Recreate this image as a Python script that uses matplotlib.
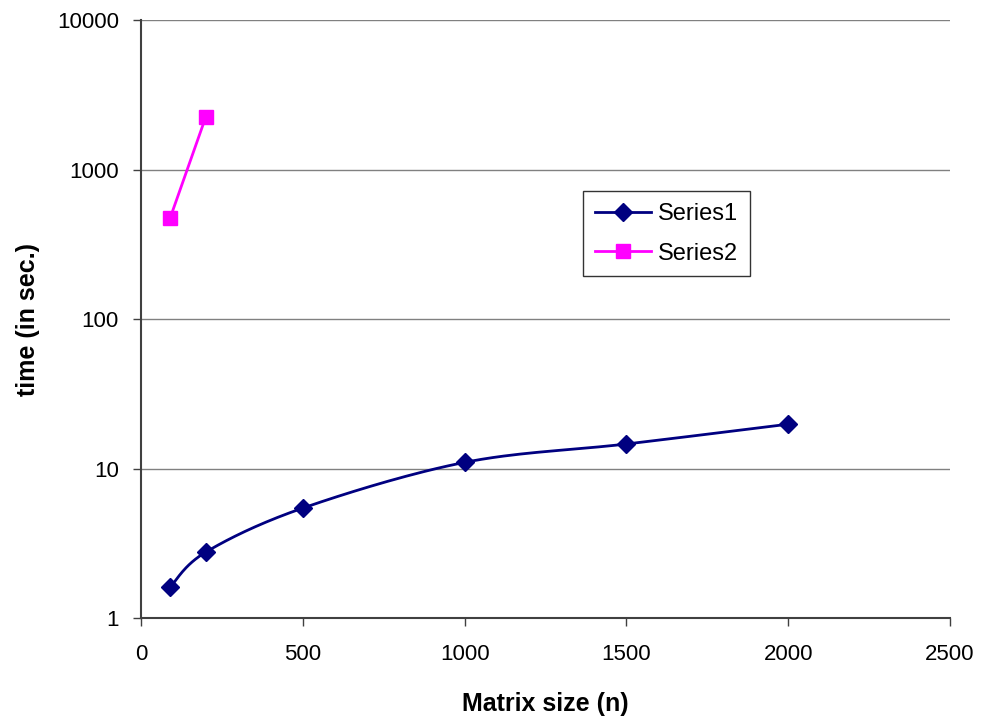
import numpy as np
import matplotlib
matplotlib.use('Agg')
import matplotlib.pyplot as plt
from matplotlib import ticker


size1 = [90, 200, 500, 1000, 1500, 2000]
time1 = [1.61, 2.76, 5.44, 11.0, 14.6, 19.8]
size2 = [90, 200]
time2 = [474, 2245]

X_TICKS = [0, 500, 1000, 1500, 2000, 2500]
Y_TICKS = [1, 10, 100, 1000, 10000]


def smooth(xs, ys, steps=30):
  # Excel-style smoothed line: cubic Bezier with Catmull-Rom control points,
  # built in (x, log10 y) so it matches the log axis.
  pts = np.column_stack([np.asarray(xs, float), np.log10(ys)])
  ext = np.vstack([pts[:1], pts, pts[-1:]])
  t = np.linspace(0, 1, steps)[:, None]
  out = []
  for i in range(len(pts) - 1):
    p0, p1, p2, p3 = ext[i], ext[i + 1], ext[i + 2], ext[i + 3]
    b1 = p1 + (p2 - p0) / 6
    b2 = p2 - (p3 - p1) / 6
    seg = ((1 - t) ** 3 * p1 + 3 * (1 - t) ** 2 * t * b1
           + 3 * (1 - t) * t ** 2 * b2 + t ** 3 * p2)
    out.append(seg if i == 0 else seg[1:])
  out = np.vstack(out)
  return out[:, 0], 10 ** out[:, 1]


plt.rcParams['font.family'] = ['Liberation Sans', 'DejaVu Sans']

fig = plt.figure(figsize=(9.82, 7.17), dpi=100)
ax = fig.add_axes([0.1436, 0.138, 0.8238, 0.834])

ax.set_yscale('log')
ax.set_xlim(0, 2500)
ax.set_ylim(1, 10000)
ax.set_xticks(X_TICKS)
ax.set_yticks(Y_TICKS)
ax.xaxis.set_major_formatter(ticker.FuncFormatter(lambda v, _: f'{v:g}'))
ax.yaxis.set_major_formatter(ticker.FuncFormatter(lambda v, _: f'{v:g}'))
ax.yaxis.set_minor_locator(ticker.NullLocator())

ax.grid(axis='y', color='#808080', lw=1.0)
ax.set_axisbelow(True)

sx, sy = smooth(size1, time1)
ax.plot(sx, sy, color='#000080', lw=2, zorder=3)
ax.plot(size1, time1, ls='none', marker='D', ms=9.5, color='#000080',
        zorder=4)
ax.plot([], [], color='#000080', lw=2, marker='D', ms=9, label='Series1')
ax.plot(size2, time2, color='#ff00ff', lw=2, marker='s', ms=10,
        label='Series2', zorder=4)

for side in ('top', 'right'):
  ax.spines[side].set_visible(False)
for side in ('left', 'bottom'):
  ax.spines[side].set_color('#404040')
  ax.spines[side].set_linewidth(1.5)

ax.tick_params(axis='both', which='major', direction='out', length=6,
               width=1, color='#404040', labelsize=16)
ax.tick_params(axis='y', pad=10)
ax.tick_params(axis='x', pad=13)

ax.set_xlabel('Matrix size (n)', fontsize=18, fontweight='bold', labelpad=19)
ax.set_ylabel('time (in sec.)', fontsize=18, fontweight='bold', labelpad=12)

leg = ax.legend(loc='upper left', bbox_to_anchor=(0.546, 0.714),
                fontsize=17, frameon=True, fancybox=False, borderpad=0.5,
                borderaxespad=0, handlelength=2.4, handletextpad=0.3,
                labelspacing=0.75)
leg.get_frame().set_edgecolor('black')
leg.get_frame().set_linewidth(1)

fig.savefig('out.png', dpi=100)
